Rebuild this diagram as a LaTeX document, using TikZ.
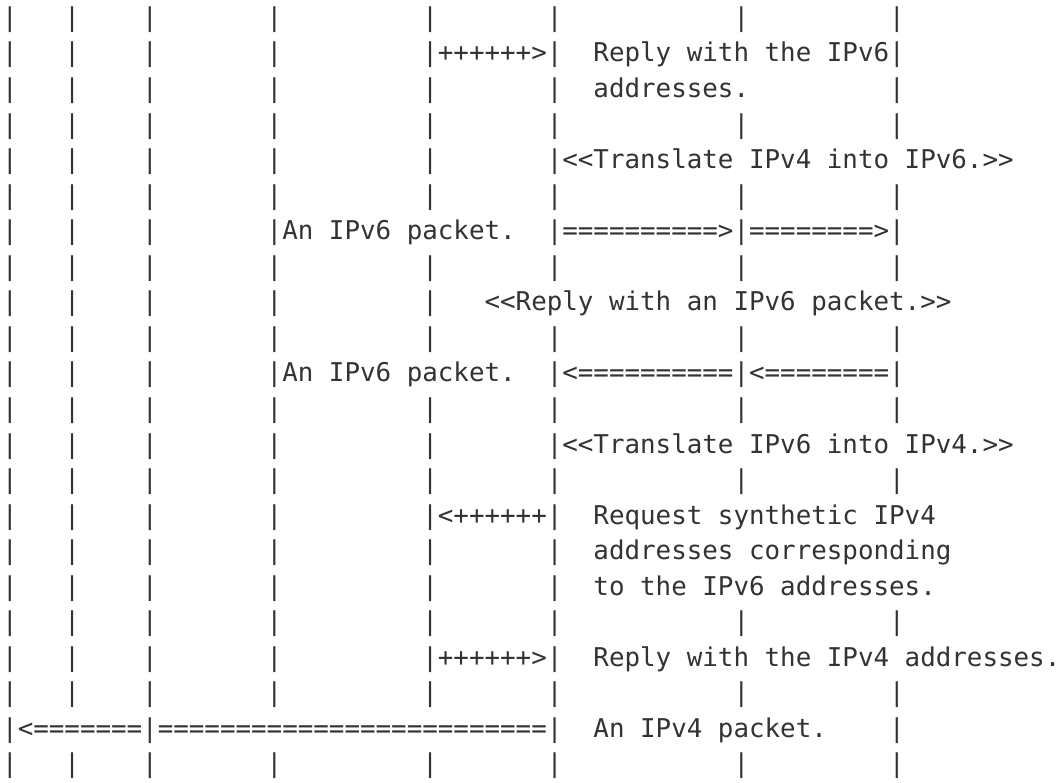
\documentclass[tikz,border=0pt]{standalone}
\usepackage{fontspec}
\setmonofont{DejaVu Sans Mono}
\definecolor{ink}{HTML}{333333}
\tikzset{
  txt/.style={anchor=base west, inner sep=0pt, outer sep=0pt, text=ink,
    font=\ttfamily\fontsize{25.85pt}{30pt}\selectfont}
}
\newcommand\seg[3]{\node[txt] (r#1c#2) at ({2.2pt+#2*15.56pt},{-26.4pt-(#1-1)*35.55pt}) {#3};}
\newcommand\pipes[2]{\foreach \cc in {#2} {\seg{#1}{\cc}{|}}}
\begin{document}
\begin{tikzpicture}
\fill[white] (0pt,0pt) rectangle (1064pt,-782pt);
\useasboundingbox (0pt,0pt) rectangle (1064pt,-782pt);
% row 1
\pipes{1}{0,4,9,17,27,35,47,57}
% row 2
\pipes{2}{0,4,9,17,27,35,57}
\seg{2}{28}{++++++>}
\seg{2}{38}{Reply with the IPv6}
% row 3
\pipes{3}{0,4,9,17,27,35,57}
\seg{3}{38}{addresses.}
% row 4
\pipes{4}{0,4,9,17,27,35,47,57}
% row 5
\pipes{5}{0,4,9,17,27,35}
\seg{5}{36}{<<Translate IPv4 into IPv6.>>}
% row 6
\pipes{6}{0,4,9,17,27,35,47,57}
% row 7
\pipes{7}{0,4,9,17,35,47,57}
\seg{7}{18}{An IPv6 packet.}
\seg{7}{36}{==========>}
\seg{7}{48}{========>}
% row 8
\pipes{8}{0,4,9,17,27,35,47,57}
% row 9
\pipes{9}{0,4,9,17,27}
\seg{9}{31}{<<Reply with an IPv6 packet.>>}
% row 10
\pipes{10}{0,4,9,17,27,35,47,57}
% row 11
\pipes{11}{0,4,9,17,35,47,57}
\seg{11}{18}{An IPv6 packet.}
\seg{11}{36}{<==========}
\seg{11}{48}{<========}
% row 12
\pipes{12}{0,4,9,17,27,35,47,57}
% row 13
\pipes{13}{0,4,9,17,27,35}
\seg{13}{36}{<<Translate IPv6 into IPv4.>>}
% row 14
\pipes{14}{0,4,9,17,27,35,47,57}
% row 15
\pipes{15}{0,4,9,17,27,35}
\seg{15}{28}{<++++++}
\seg{15}{38}{Request synthetic IPv4}
% row 16
\pipes{16}{0,4,9,17,27,35}
\seg{16}{38}{addresses corresponding}
% row 17
\pipes{17}{0,4,9,17,27,35}
\seg{17}{38}{to the IPv6 addresses.}
% row 18
\pipes{18}{0,4,9,17,27,35,47,57}
% row 19
\pipes{19}{0,4,9,17,27,35}
\seg{19}{28}{++++++>}
\seg{19}{38}{Reply with the IPv4 addresses.}
% row 20
\pipes{20}{0,4,9,17,27,35,47,57}
% row 21
\pipes{21}{0,9,35,57}
\seg{21}{1}{<=======}
\seg{21}{10}{=========================}
\seg{21}{38}{An IPv4 packet.}
% row 22
\pipes{22}{0,4,9,17,27,35,47,57}
\end{tikzpicture}
\end{document}
